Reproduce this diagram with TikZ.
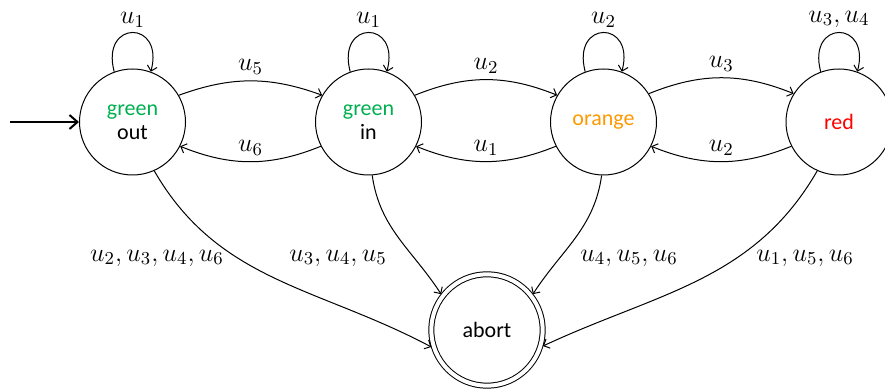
\documentclass[tikz,border=0pt]{standalone}
\usepackage{fix-cm}
\usepackage{fontspec}
\setmainfont{Carlito}
\usetikzlibrary{arrows.meta}
\definecolor{xgreen}{RGB}{0,176,80}
\definecolor{xorange}{RGB}{255,153,0}
\definecolor{xred}{RGB}{255,0,0}
\begin{document}
\begin{tikzpicture}[x=0.5pt,y=0.5pt,
  state/.style={circle,draw,line width=0.5pt,minimum size=53pt,inner sep=0pt,align=center,font=\fontsize{11}{12}\selectfont},
  final/.style={circle,draw,line width=0.5pt,double,double distance=2pt,minimum size=55.7pt,inner sep=0pt,outer sep=1.25pt,font=\fontsize{11}{12}\selectfont},
  edge/.style={-{Straight Barb[length=2.5pt,width=5pt]},line width=0.5pt},
  lab/.style={font=\fontsize{13}{15}\selectfont,inner sep=2pt}]
\useasboundingbox (0,0) rectangle (885,390);
\node[state] (out) at (132.5,268) {\textcolor{xgreen}{green}\\out};
\node[state] (in) at (368.5,268) {\textcolor{xgreen}{green}\\in};
\node[state] (orange) at (603.5,268) {\textcolor{xorange}{orange}};
\node[state] (red) at (839,268) {\textcolor{xred}{red}};
\node[final] (abort) at (487,60) {abort};
\coordinate (start) at (10,268);
\draw[line width=1pt,-{Straight Barb[length=4pt,width=7pt]}] (start) -- (out);
% loops
\draw[edge] (out.110) .. controls +(105:27pt) and +(75:27pt) .. node[lab,midway,above=0.5pt]{$u_1$} (out.70);
\draw[edge] (in.110) .. controls +(105:27pt) and +(75:27pt) .. node[lab,midway,above=0.5pt]{$u_1$} (in.70);
\draw[edge] (orange.110) .. controls +(105:27pt) and +(75:27pt) .. node[lab,midway,above=0.5pt]{$u_2$} (orange.70);
\draw[edge] (red.110) .. controls +(105:27pt) and +(75:27pt) .. node[lab,midway,above=0.5pt]{$u_3,u_4$} (red.70);
% horizontal edges
\draw[edge] (out.30) to[bend left=20] node[lab,midway,above=1pt]{$u_5$} (in.150);
\draw[edge] (in.207) to[bend left=22] node[lab,midway,above=1pt]{$u_6$} (out.-27);
\draw[edge] (in.30) to[bend left=22] node[lab,midway,above=1pt]{$u_2$} (orange.150);
\draw[edge] (orange.207) to[bend left=22] node[lab,midway,above=1pt]{$u_1$} (in.-27);
\draw[edge] (orange.32) to[bend left=22] node[lab,midway,above=1pt]{$u_3$} (red.148);
\draw[edge] (red.207) to[bend left=22] node[lab,midway,above=1pt]{$u_2$} (orange.-27);
% to abort
\draw[edge] (out.-66) to[out=-60,in=152] (abort.197);
\draw[edge] (in.-86) to[out=-82,in=123] (abort.142);
\draw[edge] (orange.-92) to[out=-98,in=57] (abort.38);
\draw[edge] (red.-114) to[out=-120,in=25] (abort.-16);
\node[lab] (l1) at (157,132) {$u_2,u_3,u_4,u_6$};
\node[lab] (l2) at (338,132) {$u_3,u_4,u_5$};
\node[lab] (l3) at (629,132) {$u_4,u_5,u_6$};
\node[lab] (l4) at (805,132) {$u_1,u_5,u_6$};
\end{tikzpicture}
\end{document}
